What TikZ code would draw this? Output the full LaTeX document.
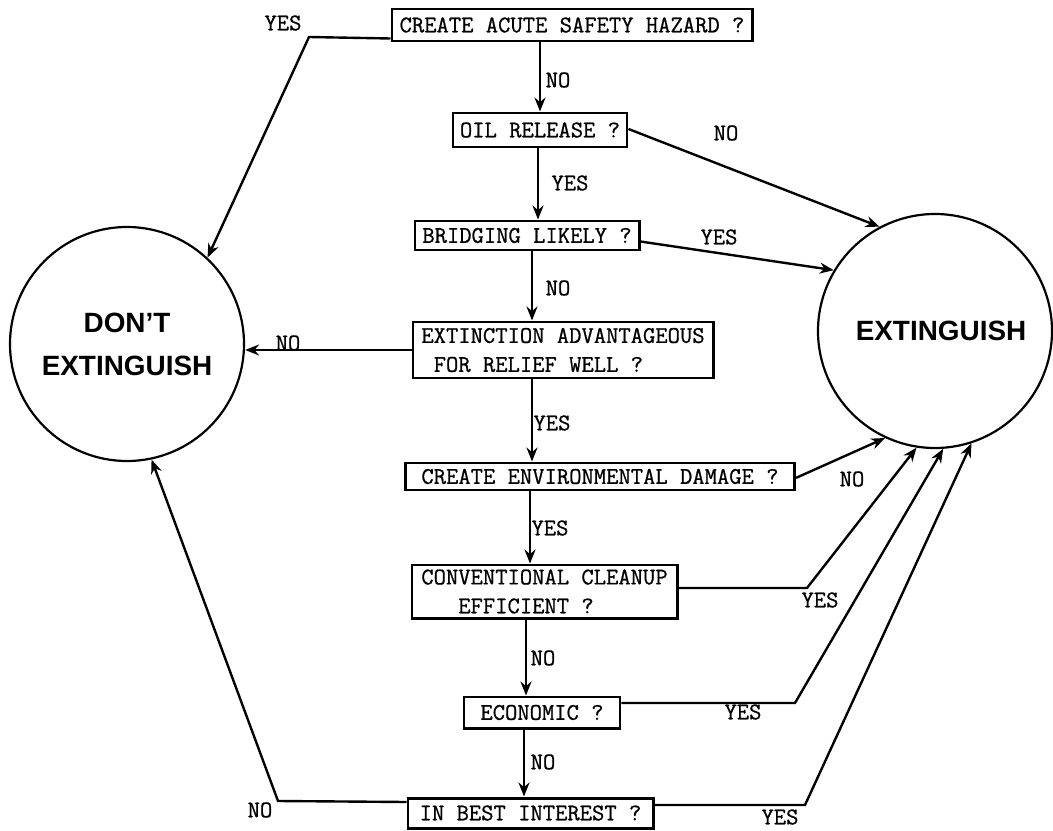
\documentclass[tikz,border=0pt]{standalone}
\usepackage{fontspec}
\newfontfamily\circfont{Liberation Sans}
\newfontfamily\qfont{Latin Modern Mono}[FakeBold=0.8]
\usetikzlibrary{arrows.meta}

\tikzset{
  qbox/.style={draw, line width=1.5pt, font=\qfont\fontsize{12}{14.5}\selectfont, inner sep=1pt, align=left},
  endstate/.style={draw, circle, line width=1.1pt, minimum size=117bp, inner sep=0pt,
    font=\circfont\bfseries\fontsize{14}{21.5}\selectfont, align=center},
  flow/.style={line width=1.2pt, -{Stealth[length=7pt,width=5.5pt]}},
  ans/.style={font=\qfont\fontsize{12}{14}\selectfont, inner sep=0pt}
}

\begin{document}
\begin{tikzpicture}[x=0.5bp, y=-0.5bp]
        \useasboundingbox (0,0) rectangle (1053,831);

        % ==========================================
        % End states
        % ==========================================
        \node[endstate] (dont) at (127,344) {DON’T\\EXTINGUISH};
        \node[endstate] (ext)  at (935,331) {\hspace*{6bp}EXTINGUISH};

        % ==========================================
        % Questions
        % ==========================================
        \node[qbox, minimum width=180bp, minimum height=16bp] (hazard) at (572,25) {CREATE ACUTE SAFETY HAZARD ?};
        \node[qbox, minimum width=87bp, minimum height=17bp] (oil) at (540,130) {OIL RELEASE ?};
        \node[qbox, minimum width=112bp, minimum height=14.5bp] (bridge) at (527,235.5) {BRIDGING LIKELY ?};
        \node[qbox, minimum width=150bp, minimum height=28bp] (relief) at (563,350) {EXTINCTION ADVANTAGEOUS\\\ FOR RELIEF WELL ?};
        \node[qbox, minimum width=194.5bp, minimum height=13.5bp] (envdmg) at (600,476.5) {CREATE ENVIRONMENTAL DAMAGE ?};
        \node[qbox, minimum width=132.5bp, minimum height=26.5bp] (cleanup) at (544.5,591.5) {CONVENTIONAL CLEANUP\\\ \ \ EFFICIENT ?};
        \node[qbox, minimum width=78bp, minimum height=15.5bp] (econ) at (542,712.5) {ECONOMIC ?};
        \node[qbox, minimum width=122.5bp, minimum height=15bp] (interest) at (530.5,813) {IN BEST INTEREST ?};

        % Bends and main spine
        \coordinate (spine) at (532,0);
        \coordinate (hazbend) at (309,37);
        \coordinate (cleanbend) at (807,588);
        \coordinate (econbend) at (795,703);
        \coordinate (bestbend) at (805,805);
        \coordinate (worstbend) at (278,801);

        % ==========================================
        % Down the spine
        % ==========================================
        \draw[flow] (oil.north |- hazard.south) -- (oil.north);
        \draw[flow] ([xshift=-1bp]oil.south) -- ([xshift=-1bp]oil.south |- bridge.north);
        \draw[flow] (spine |- bridge.south) -- (spine |- relief.north);
        \draw[flow] (spine |- relief.south) -- (spine |- envdmg.north);
        \draw[flow] ([xshift=-1bp]spine |- envdmg.south) -- ([xshift=-1bp]spine |- cleanup.north);
        \draw[flow] ([xshift=-3bp]spine |- cleanup.south) -- ([xshift=-3bp]spine |- econ.north);
        \draw[flow] ([xshift=-4bp]spine |- econ.south) -- ([xshift=-4bp]spine |- interest.north);

        % ==========================================
        % To DON'T EXTINGUISH
        % ==========================================
        \draw[flow] ([yshift=2bp]hazard.south west) -- (hazbend) -- (dont.47);
        \draw[flow] (relief.west) -- (relief.west -| dont.east);
        \draw[flow] ([yshift=5.5bp]interest.west) -- (worstbend) -- (dont.282);

        % ==========================================
        % To EXTINGUISH
        % ==========================================
        \draw[flow] ([yshift=0.5bp]oil.east) -- (ext.118);
        \draw[flow] ([yshift=-3bp]bridge.east) -- (ext.149);
        \draw[flow] ([yshift=-0.7bp]envdmg.east) -- (ext.245);
        \draw[flow] (cleanup.east |- cleanbend) -- (cleanbend) -- (ext.261);
        \draw[flow] (econ.east |- econbend) -- (econbend) -- (ext.274);
        \draw[flow] (interest.east |- bestbend) -- (bestbend) -- (ext.288);

        % Answers
        \node[ans] (yhaz)   at (283,23)  {YES};
        \node[ans] (nhaz)   at (558,80)  {NO};
        \node[ans] (noil)   at (726,133) {NO};
        \node[ans] (yoil)   at (570,183) {YES};
        \node[ans] (ybr)    at (719,237) {YES};
        \node[ans] (nbr)    at (558,288) {NO};
        \node[ans] (nrel)   at (288,343) {NO};
        \node[ans] (yrel)   at (552,423) {YES};
        \node[ans] (nenv)   at (852,479) {NO};
        \node[ans] (yenv)   at (550,528) {YES};
        \node[ans] (yclean) at (820,600) {YES};
        \node[ans] (nclean) at (543,658) {NO};
        \node[ans] (yecon)  at (743,712) {YES};
        \node[ans] (necon)  at (543,762) {NO};
        \node[ans] (ybest)  at (780,817) {YES};
        \node[ans] (nbest)  at (260,810) {NO};

    \end{tikzpicture}
\end{document}
